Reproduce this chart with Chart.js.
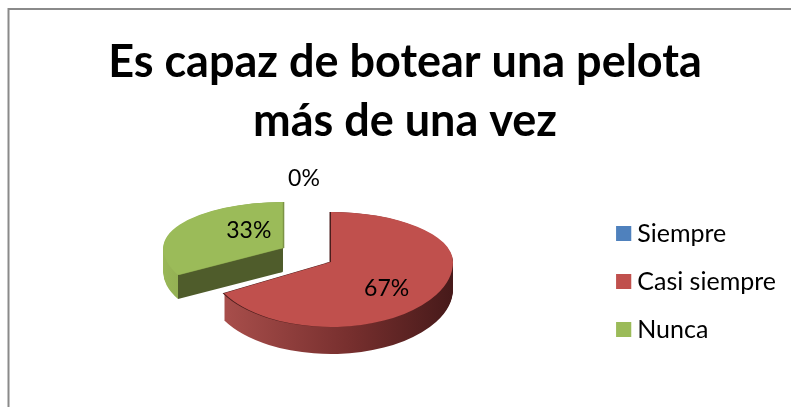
<!DOCTYPE html>
<html><head><meta charset="utf-8">
<script src="https://cdn.jsdelivr.net/npm/chart.js@4"></script>
<style>html,body{margin:0;padding:0;background:#fff;overflow:hidden}canvas{display:block}</style>
</head><body>
<canvas id="c" width="791" height="407"></canvas>
<script>
const titleLines = ["Es capaz de botear una pelota", "más de una vez"];
const categories = ["Siempre", "Casi siempre", "Nunca"];
const values = [0, 67, 33];
const percentLabels = ["0%", "67%", "33%"];
const topColors = ["#4f81bd", "#c0504d", "#9bbb59"];

const FONT = "Lato, Carlito, 'Open Sans', sans-serif";
// 3D look: each slice's projection on the page
const view = { cx: 331, cy: 262, rx: 122, up: 50, down: 65 };
const sliceView = [
  null,
  { explode: 0, sx: 1, up: 1, down: 1, depth: 27, edge: "#4a1d1c", edgeShift: -1.5,
    wall: [[224, "#a84e4b"], [350, "#772f2e"], [452, "#471a1a"]] },
  { explode: 56, sx: 0.98, up: 0.92, down: 0.86, depth: 24, edge: "#7c9345", edgeShift: 1.5,
    wall: [[160, "#9ab858"], [177.5, "#94b154"], [178.5, "#4f5c2b"], [290, "#4f5c2b"]] }
];
const labelPlace = [
  { f: 1.68, dx: -27, dy: 1 },
  { f: 0.53, dx: 0, dy: 9 },
  { f: 0.33, dx: 0, dy: -10 }
];

function sliceGeom(arc, i) {
  const s = sliceView[i];
  const mid = (arc.startAngle + arc.endAngle) / 2;
  const k = view.up / view.rx * 1.2;
  return {
    s, mid,
    ax: view.cx + Math.cos(mid) * s.explode,
    ay: view.cy + Math.sin(mid) * s.explode * k,
    sx: s.sx * view.rx / arc.outerRadius,
    ku: s.up * view.up / arc.outerRadius,
    kd: s.down * view.down / arc.outerRadius
  };
}
function paintSlice(ctx, arc, g, fill, shiftX, shiftY) {
  const saved = arc.options;
  if (fill) arc.options = Object.assign({}, saved, { backgroundColor: fill });
  const split = g.ay + shiftY;
  [[-100, split + 0.5, g.ku], [split, 1000, g.kd]].forEach(([y0, y1, ky]) => {
    ctx.save();
    ctx.beginPath();
    ctx.rect(0, y0, 791, y1 - y0);
    ctx.clip();
    ctx.translate(g.ax + shiftX, g.ay + shiftY);
    ctx.scale(g.sx, ky);
    ctx.translate(-arc.x, -arc.y);
    arc.draw(ctx);
    ctx.restore();
  });
  arc.options = saved;
}
const pie3d = {
  id: "pie3d",
  beforeDraw(chart) {
    const c = chart.ctx;
    c.save();
    c.fillStyle = "#fff";
    c.fillRect(0, 0, 791, 407);
    c.strokeStyle = "#8a8a8a";
    c.lineWidth = 2;
    c.beginPath();
    c.moveTo(8.5, 407);
    c.lineTo(8.5, 9);
    c.lineTo(791, 9);
    c.stroke();
    c.restore();
  },
  beforeDatasetDraw(chart, args) {
    const ctx = chart.ctx;
    const arcs = chart.getDatasetMeta(args.index).data;
    [2, 1].forEach(i => {
      const arc = arcs[i];
      const g = sliceGeom(arc, i);
      const x0 = g.s.wall[0][0], x1 = g.s.wall[g.s.wall.length - 1][0];
      const toRaw = x => arc.x + (x - g.ax) / g.sx;
      const grad = ctx.createLinearGradient(toRaw(x0), 0, toRaw(x1), 0);
      g.s.wall.forEach(([x, col]) => grad.addColorStop((x - x0) / (x1 - x0), col));
      for (let d = g.s.depth; d >= 1; d--) paintSlice(ctx, arc, g, grad, 0, d);
      paintSlice(ctx, arc, g, g.s.edge, g.s.edgeShift, 0);
      paintSlice(ctx, arc, g, null, 0, 0);
    });
    return false;
  },
  afterDraw(chart) {
    const ctx = chart.ctx;
    const arcs = chart.getDatasetMeta(0).data;
    ctx.save();
    ctx.fillStyle = "#000";
    ctx.font = "23px " + FONT;
    ctx.textAlign = "center";
    ctx.textBaseline = "middle";
    arcs.forEach((arc, i) => {
      const p = labelPlace[i];
      let ax = view.cx, ay = view.cy, up = view.up, dn = view.down, rx = view.rx, mid = (arc.startAngle + arc.endAngle) / 2;
      if (sliceView[i]) {
        const g = sliceGeom(arc, i);
        ax = g.ax; ay = g.ay;
        rx *= sliceView[i].sx; up *= sliceView[i].up; dn *= sliceView[i].down;
      }
      const sn = Math.sin(mid);
      const x = ax + Math.cos(mid) * rx * p.f + p.dx;
      const y = ay + sn * (sn < 0 ? up : dn) * p.f + p.dy;
      ctx.fillText(percentLabels[i], x, y);
    });
    // legend squares are wider than the gap Chart.js leaves for them
    chart.legend.legendHitBoxes.forEach((hb, i) => {
      ctx.fillStyle = topColors[i];
      ctx.fillRect(hb.left, hb.top + (hb.height - 15) / 2, 15, 15);
    });
    ctx.restore();
  }
};
new Chart(document.getElementById("c"), {
  type: "pie",
  data: { labels: categories, datasets: [{ data: values, backgroundColor: topColors, borderWidth: 0 }] },
  plugins: [pie3d],
  options: {
    responsive: false,
    animation: false,
    layout: { padding: { left: 24, right: 5, top: 24, bottom: 42 } },
    plugins: {
      tooltip: { enabled: false },
      title: {
        display: true, text: titleLines, color: "#000", position: "top",
        font: { family: FONT, size: 45, weight: "bold", lineHeight: 1.333 },
        padding: { top: 8, bottom: 20 }
      },
      legend: {
        position: "right", align: "end",
        labels: { color: "#000", font: { family: FONT, size: 25 }, boxWidth: 8.5, boxHeight: 15, padding: 23 }
      }
    }
  }
});
</script>
</body></html>
